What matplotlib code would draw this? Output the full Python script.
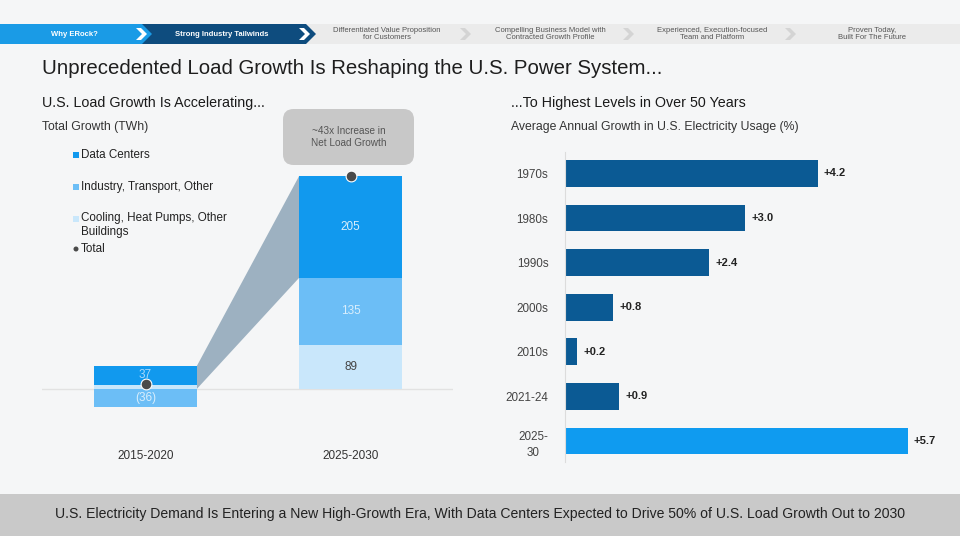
import matplotlib
matplotlib.use("Agg")
import matplotlib.pyplot as plt
from matplotlib.patches import Polygon, FancyBboxPatch, Rectangle, Ellipse

plt.rcParams['font.family'] = ['Liberation Sans', 'DejaVu Sans']

# left chart data (TWh)
periods = ['2015-2020', '2025-2030']
data_centers = [37, 205]
industry = [-36, 135]
cooling = [9, 89]
legend_labels = ['Data Centers', 'Industry, Transport, Other',
                 'Cooling, Heat Pumps, Other\nBuildings', 'Total']

# right chart data (%)
decades = ['1970s', '1980s', '1990s', '2000s', '2010s', '2021-24', '2025-\n30']
growth = [4.2, 3.0, 2.4, 0.8, 0.2, 0.9, 5.7]

nav_items = ['Why ERock?', 'Strong Industry Tailwinds',
             'Differentiated Value Proposition\nfor Customers',
             'Compelling Business Model with\nContracted Growth Profile',
             'Experienced, Execution-focused\nTeam and Platform',
             'Proven Today,\nBuilt For The Future']

c_dc = '#1199ee'
c_ind = '#6cbef6'
c_cool = '#c9e7fb'
c_total = '#4a4a4a'
c_dark = '#0b5a94'
bg = '#f5f6f7'

W, H = 960, 536
fig = plt.figure(figsize=(9.6, 5.36), dpi=100, facecolor=bg)


def fx(x):
    return x / W


def fy(y):
    return 1 - y / H


def poly(pts, color, z=1):
    fig.patches.append(Polygon([(fx(a), fy(b)) for a, b in pts], closed=True,
                               transform=fig.transFigure, fc=color, ec='none', zorder=z))


def chevron(x, y, color, z=3):
    poly([(x - 5, y - 6), (x, y - 6), (x + 6, y), (x, y + 6), (x - 5, y + 6), (x + 1, y)], color, z)


# nav bar
poly([(0, 24), (960, 24), (960, 44), (0, 44)], '#ebebeb')
poly([(140, 24), (306, 24), (316, 34), (306, 44), (140, 44)], '#0e4c7e', 2)
poly([(0, 24), (142, 24), (152, 34), (142, 44), (0, 44)], '#1a9be6', 2)
chevron(141, 34, 'white')
chevron(304, 34, 'white')
for cx in [465, 628, 790]:
    chevron(cx, 34, '#d4d4d4')
nav_x = [74, 222, 387, 550, 712, 872]
for i, (t, x) in enumerate(zip(nav_items, nav_x)):
    if i < 2:
        fig.text(fx(x), fy(34), t, color='white', fontsize=5.5, fontweight='bold',
                 ha='center', va='center')
    else:
        fig.text(fx(x), fy(34), t, color='#555555', fontsize=5.5,
                 ha='center', va='center', linespacing=1.1)

# titles
fig.text(fx(42), fy(68), 'Unprecedented Load Growth Is Reshaping the U.S. Power System...',
         fontsize=14.7, color='#1e1e1e', va='center')
fig.text(fx(42), fy(103), 'U.S. Load Growth Is Accelerating...', fontsize=10.3,
         color='#1a1a1a', va='center')
fig.text(fx(42), fy(127), 'Total Growth (TWh)', fontsize=8.8, color='#333333', va='center')
fig.text(fx(511), fy(103), '...To Highest Levels in Over 50 Years', fontsize=10.3,
         color='#1a1a1a', va='center')
fig.text(fx(511), fy(127), 'Average Annual Growth in U.S. Electricity Usage (%)',
         fontsize=8.8, color='#333333', va='center')

# bottom banner
poly([(0, 494), (960, 494), (960, 536), (0, 536)], '#c9c9c9')
fig.text(0.5, fy(514), 'U.S. Electricity Demand Is Entering a New High-Growth Era, With Data '
         'Centers Expected to Drive 50% of U.S. Load Growth Out to 2030',
         fontsize=10.1, color='#222222', ha='center', va='center')

# ---- left chart ----
ax = fig.add_axes([fx(42), fy(470), 411 / W, 370 / H])
ax.set_facecolor('none')
ax.set_xlim(-0.505, 1.5)
ax.set_ylim(-163, 581.5)
ax.axis('off')
ax.axhline(0, color='#e2e2e2', lw=1, zorder=0)

xs = [0, 1]
w = 0.5
bot_pos = [0, 0]
bot_neg = [0, 0]
segs = {}
for name, vals, col in [('cool', cooling, c_cool), ('ind', industry, c_ind), ('dc', data_centers, c_dc)]:
    bottoms = []
    for i, v in enumerate(vals):
        if v >= 0:
            bottoms.append(bot_pos[i])
            bot_pos[i] += v
        else:
            bottoms.append(bot_neg[i])
            bot_neg[i] += v
    ax.bar(xs, vals, width=w, bottom=bottoms, color=col, zorder=2)
    segs[name] = bottoms

totals = [a + b + c for a, b, c in zip(data_centers, industry, cooling)]

# connector wedge
ax.add_patch(Polygon([(xs[0] + w / 2, 0), (xs[0] + w / 2, bot_pos[0]),
                      (xs[1] - w / 2, bot_pos[1]), (xs[1] - w / 2, segs['dc'][1])],
                     closed=True, fc='#9db1c1', ec='none', zorder=1))

label_cols = {'dc': ['#a8d8fa', '#d8eefc'], 'ind': ['#d8eefc', '#d8eefc'], 'cool': ['#444444', '#444444']}
for name, vals in [('dc', data_centers), ('ind', industry), ('cool', cooling)]:
    for i, v in enumerate(vals):
        if abs(v) < 15:
            continue
        txt = f'({abs(v)})' if v < 0 else str(v)
        ax.text(xs[i], segs[name][i] + v / 2, txt, ha='center', va='center',
                fontsize=8.5, color=label_cols[name][i], zorder=4)

ax.scatter(xs, totals, s=60, color=c_total, edgecolor='white', linewidth=0.8, zorder=5)

for i, p in enumerate(periods):
    ax.text(xs[i], -135, p, ha='center', va='center', fontsize=8.5, color='#333333')

# callout box
fig.patches.append(FancyBboxPatch((fx(283), fy(165)), 131 / W, 56 / H,
                                  boxstyle='round,pad=0,rounding_size=0.011',
                                  mutation_aspect=W / H, transform=fig.transFigure,
                                  fc='#c8c8c8', ec='none', zorder=3))
fig.text(fx(348.5), fy(137), '~43x Increase in\nNet Load Growth', ha='center', va='center',
         fontsize=7.2, color='#555555', linespacing=1.3, zorder=4)

# legend
leg_y = [155, 187, 225, 249]
leg_cols = [c_dc, c_ind, c_cool, c_total]
for i, (lab, y, col) in enumerate(zip(legend_labels, leg_y, leg_cols)):
    if i < 3:
        ty = y - 6.5 if '\n' in lab else y
        fig.patches.append(Rectangle((fx(73), fy(ty + 3)), 6 / W, 6 / H,
                                     transform=fig.transFigure, fc=col, ec='none'))
    else:
        fig.patches.append(Ellipse((fx(76), fy(y)), 5 / W, 5 / H,
                                   transform=fig.transFigure, fc=col, ec='none'))
    fig.text(fx(81), fy(y), lab, fontsize=8.4, color='#222222', va='center', linespacing=1.2)

# ---- right chart ----
ax2 = fig.add_axes([fx(565), fy(462), 385 / W, 310 / H])
ax2.set_facecolor('none')
ypos = list(range(len(decades)))
cols = [c_dark] * (len(decades) - 1) + ['#0f9bf0']
ax2.barh(ypos, growth, height=0.6, color=cols, zorder=2)
ax2.set_xlim(0, 6.4)
ax2.set_ylim(len(decades) - 1 + 0.47, -0.48)
for s in ['top', 'right', 'bottom']:
    ax2.spines[s].set_visible(False)
ax2.spines['left'].set_color('#dcdcdc')
ax2.set_xticks([])
ax2.set_yticks(ypos)
ax2.set_yticklabels(decades, fontsize=8.4, color='#444444', multialignment='center',
                    linespacing=1.5)
ax2.tick_params(axis='y', length=0, pad=12)
for y, v in zip(ypos, growth):
    ax2.text(v + 0.1, y, f'+{v:.1f}', va='center', ha='left', fontsize=8,
             fontweight='bold', color='#222222')

fig.savefig('out.png', dpi=100, facecolor=bg)
